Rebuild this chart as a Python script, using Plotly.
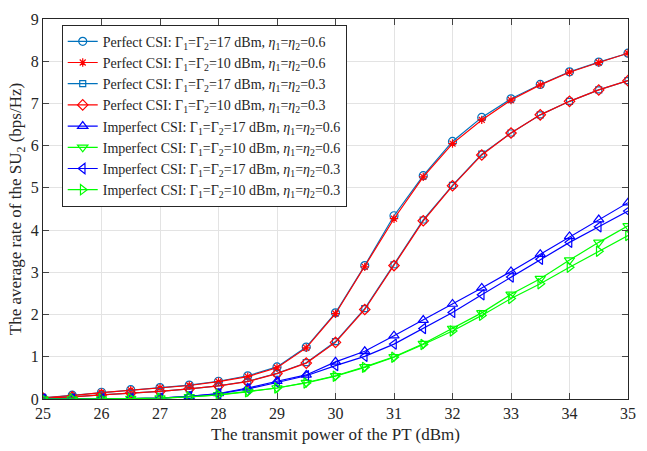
import plotly.graph_objects as go

x_power = [25, 25.5, 26, 26.5, 27, 27.5, 28, 28.5, 29, 29.5, 30, 30.5, 31, 31.5, 32, 32.5, 33, 33.5, 34, 34.5, 35]

perfect_17_06 = [0.03, 0.09, 0.16, 0.22, 0.27, 0.33, 0.42, 0.55, 0.76, 1.23, 2.04, 3.16, 4.34, 5.29, 6.10, 6.67, 7.11, 7.45, 7.75, 7.98, 8.19]
perfect_10_06 = [0.03, 0.08, 0.15, 0.21, 0.26, 0.32, 0.41, 0.53, 0.74, 1.21, 2.02, 3.13, 4.27, 5.26, 6.05, 6.61, 7.08, 7.44, 7.74, 7.97, 8.19]
perfect_17_03 = [0.02, 0.05, 0.10, 0.14, 0.18, 0.24, 0.31, 0.42, 0.61, 0.86, 1.36, 2.14, 3.18, 4.24, 5.06, 5.80, 6.30, 6.73, 7.05, 7.32, 7.54]
perfect_10_03 = [0.02, 0.05, 0.10, 0.14, 0.18, 0.24, 0.31, 0.41, 0.60, 0.85, 1.34, 2.12, 3.16, 4.22, 5.05, 5.78, 6.30, 6.73, 7.05, 7.32, 7.54]
imperfect_17_06 = [0.00, 0.00, 0.01, 0.01, 0.02, 0.06, 0.13, 0.26, 0.42, 0.57, 0.88, 1.13, 1.50, 1.87, 2.25, 2.63, 3.02, 3.43, 3.85, 4.25, 4.65]
imperfect_10_06 = [0.00, 0.00, 0.00, 0.01, 0.02, 0.05, 0.10, 0.18, 0.26, 0.39, 0.55, 0.76, 1.00, 1.31, 1.67, 2.04, 2.48, 2.85, 3.29, 3.71, 4.10]
imperfect_17_03 = [0.00, 0.00, 0.01, 0.01, 0.02, 0.06, 0.12, 0.24, 0.39, 0.55, 0.79, 1.01, 1.30, 1.67, 2.05, 2.47, 2.89, 3.31, 3.71, 4.08, 4.45]
imperfect_10_03 = [0.00, 0.00, 0.00, 0.01, 0.02, 0.05, 0.10, 0.17, 0.26, 0.38, 0.54, 0.75, 0.99, 1.29, 1.61, 1.98, 2.38, 2.73, 3.12, 3.50, 3.87]

x_ticks = [25, 26, 27, 28, 29, 30, 31, 32, 33, 34, 35]
y_ticks = [0, 1, 2, 3, 4, 5, 6, 7, 8, 9]

eta = "<i>η</i><sub>1</sub>=<i>η</i><sub>2</sub>"
gam = "Γ<sub>1</sub>=Γ<sub>2</sub>"
names = [
    f"Perfect CSI: {gam}=17 dBm, {eta}=0.6",
    f"Perfect CSI: {gam}=10 dBm, {eta}=0.6",
    f"Perfect CSI: {gam}=17 dBm, {eta}=0.3",
    f"Perfect CSI: {gam}=10 dBm, {eta}=0.3",
    f"Imperfect CSI: {gam}=17 dBm, {eta}=0.6",
    f"Imperfect CSI: {gam}=10 dBm, {eta}=0.6",
    f"Imperfect CSI: {gam}=17 dBm, {eta}=0.3",
    f"Imperfect CSI: {gam}=10 dBm, {eta}=0.3",
]
series = [perfect_17_06, perfect_10_06, perfect_17_03, perfect_10_03,
          imperfect_17_06, imperfect_10_06, imperfect_17_03, imperfect_10_03]
colors = ["#0072BD", "#FF0000", "#0072BD", "#FF0000", "#0000FF", "#00FF00", "#0000FF", "#00FF00"]
symbols = ["circle-open", "asterisk-open", "square-open", "diamond-open",
           "triangle-up-open", "triangle-down-open", "triangle-left-open", "triangle-right-open"]
sizes = [8, 7, 6, 8, 9, 9, 9, 9]

fig = go.Figure()
for name, y, c, s, sz in zip(names, series, colors, symbols, sizes):
    fig.add_trace(go.Scatter(
        x=x_power, y=y, name=name, mode="lines+markers",
        line=dict(color=c, width=1.2),
        marker=dict(symbol=s, size=sz, color=c, line=dict(color=c, width=1.2)),
    ))

font_family = "Liberation Serif"
fig.update_layout(
    width=647, height=451,
    margin=dict(l=43, r=11, t=14, b=48),
    paper_bgcolor="white", plot_bgcolor="white",
    font=dict(family=font_family, size=16, color="#262626"),
    showlegend=True,
    legend=dict(
        x=0.032, y=0.985, xanchor="left", yanchor="top",
        bgcolor="white", bordercolor="#262626", borderwidth=1,
        font=dict(family=font_family, size=14, color="#262626"),
        tracegroupgap=0, itemwidth=30,
    ),
    xaxis=dict(
        range=[25, 35], tickvals=x_ticks, ticks="inside", ticklen=6,
        showline=True, linecolor="#262626", linewidth=1, mirror="ticks",
        showgrid=True, gridcolor="#E3E3E3", zeroline=False,
        title=dict(text="The transmit power of the PT (dBm)", font=dict(family=font_family, size=17), standoff=6),
        tickfont=dict(family=font_family, size=16),
    ),
    yaxis=dict(
        range=[0, 9], tickvals=y_ticks, ticks="inside", ticklen=6,
        showline=True, linecolor="#262626", linewidth=1, mirror="ticks",
        showgrid=True, gridcolor="#E3E3E3", zeroline=False,
        title=dict(text="The average rate of the SU<sub>2</sub> (bps/Hz)", font=dict(family=font_family, size=17), standoff=4),
        tickfont=dict(family=font_family, size=16),
    ),
)

fig.write_html("out.html")
